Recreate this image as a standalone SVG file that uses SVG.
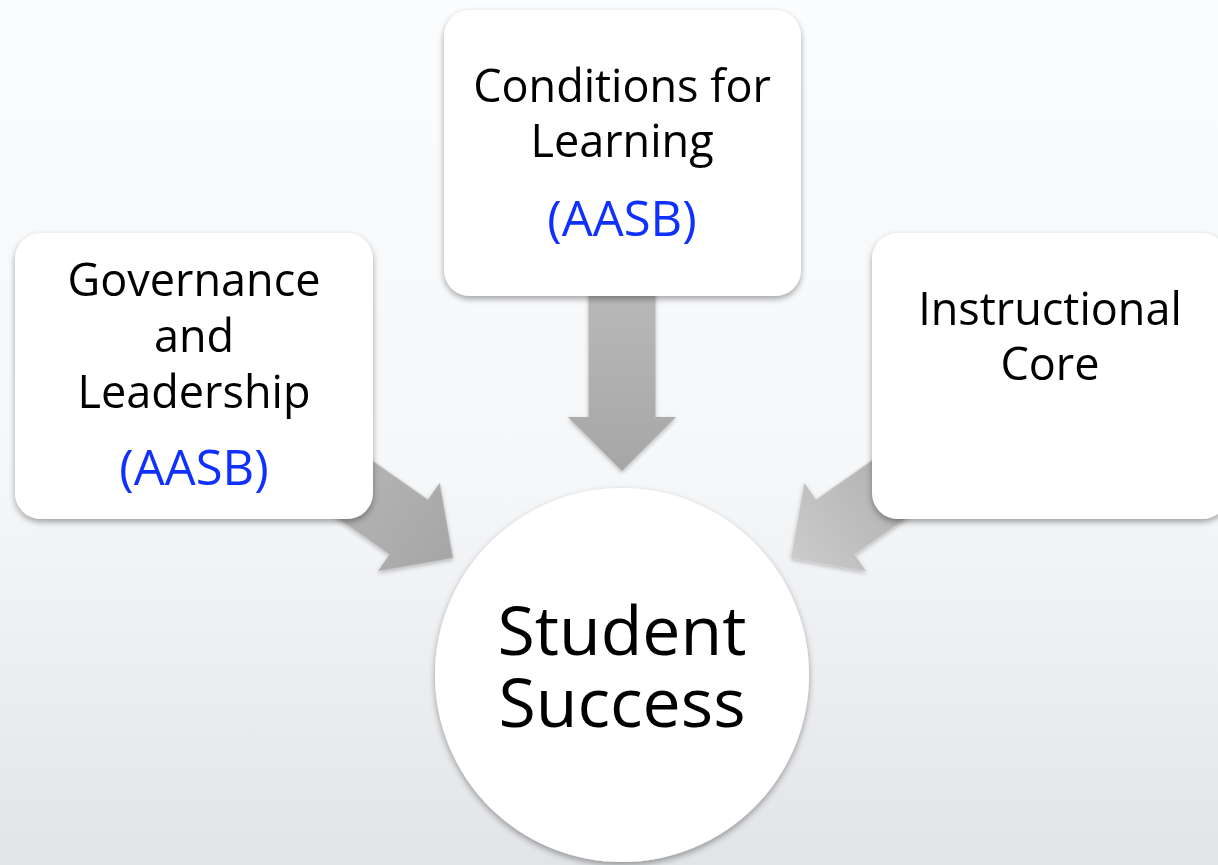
<svg xmlns="http://www.w3.org/2000/svg" width="1218" height="865" viewBox="0 0 1218 865">
  <defs>
    <linearGradient id="bg" x1="0" y1="0" x2="0" y2="1">
      <stop offset="0" stop-color="#fbfcfe"/>
      <stop offset="0.55" stop-color="#f6f7f9"/>
      <stop offset="1" stop-color="#e2e4e7"/>
    </linearGradient>
    <linearGradient id="arrowGrad" x1="0" y1="0" x2="1" y2="0">
      <stop offset="0" stop-color="#b9b9b9"/>
      <stop offset="1" stop-color="#a6a6a6"/>
    </linearGradient>
    <linearGradient id="arrowGradR" x1="0" y1="0" x2="1" y2="0">
      <stop offset="0" stop-color="#a9a9a9"/>
      <stop offset="1" stop-color="#cbcbcb"/>
    </linearGradient>
    <filter id="shadow" x="-20%" y="-20%" width="140%" height="150%">
      <feDropShadow dx="0" dy="3" stdDeviation="3" flood-color="#000" flood-opacity="0.35"/>
    </filter>
    <filter id="ashadow" x="-20%" y="-20%" width="140%" height="140%">
      <feDropShadow dx="0" dy="2" stdDeviation="2" flood-color="#000" flood-opacity="0.25"/>
    </filter>
    <polygon id="arrow" points="0,0 -54,-54 -54,-33.5 -180,-33.5 -180,33.5 -54,33.5 -54,54"/>
  </defs>
  <style>
    .box { fill: #ffffff; filter: url(#shadow); }
    .lbl { font-family: "Open Sans", "Noto Sans", sans-serif; font-size: 45px; fill: #000000; text-anchor: middle; }
    .aasb { fill: #0f30ff; font-size: 49px; }
    .big { font-family: "Open Sans", "Noto Sans", sans-serif; font-size: 68px; fill: #000000; text-anchor: middle; }
  </style>

  <rect x="0" y="0" width="1218" height="865" fill="url(#bg)"/>

  <g id="connectors" filter="url(#ashadow)">
    <use href="#arrow" transform="translate(622,471) rotate(90)" fill="url(#arrowGrad)"/>
    <use href="#arrow" transform="translate(453,558) rotate(35)" fill="url(#arrowGrad)"/>
    <use href="#arrow" transform="translate(791,558) rotate(145)" fill="url(#arrowGradR)"/>
  </g>

  <g id="governance">
    <rect class="box" x="15" y="233" width="358" height="286" rx="26"/>
    <text class="lbl" x="194" y="296">Governance</text>
    <text class="lbl" x="194" y="352">and</text>
    <text class="lbl" x="194" y="408">Leadership</text>
    <text class="lbl aasb" x="194" y="485">(AASB)</text>
  </g>

  <g id="conditions">
    <rect class="box" x="444" y="10" width="357" height="286" rx="26"/>
    <text class="lbl" x="622" y="102">Conditions for</text>
    <text class="lbl" x="622" y="157">Learning</text>
    <text class="lbl aasb" x="622" y="236">(AASB)</text>
  </g>

  <g id="instructional">
    <rect class="box" x="872" y="233" width="356" height="286" rx="26"/>
    <text class="lbl" x="1050" y="325">Instructional</text>
    <text class="lbl" x="1050" y="380">Core</text>
  </g>

  <g id="student-success">
    <circle class="box" cx="622" cy="675" r="187"/>
    <text class="big" x="622" y="655">Student</text>
    <text class="big" x="622" y="727">Success</text>
  </g>
</svg>
